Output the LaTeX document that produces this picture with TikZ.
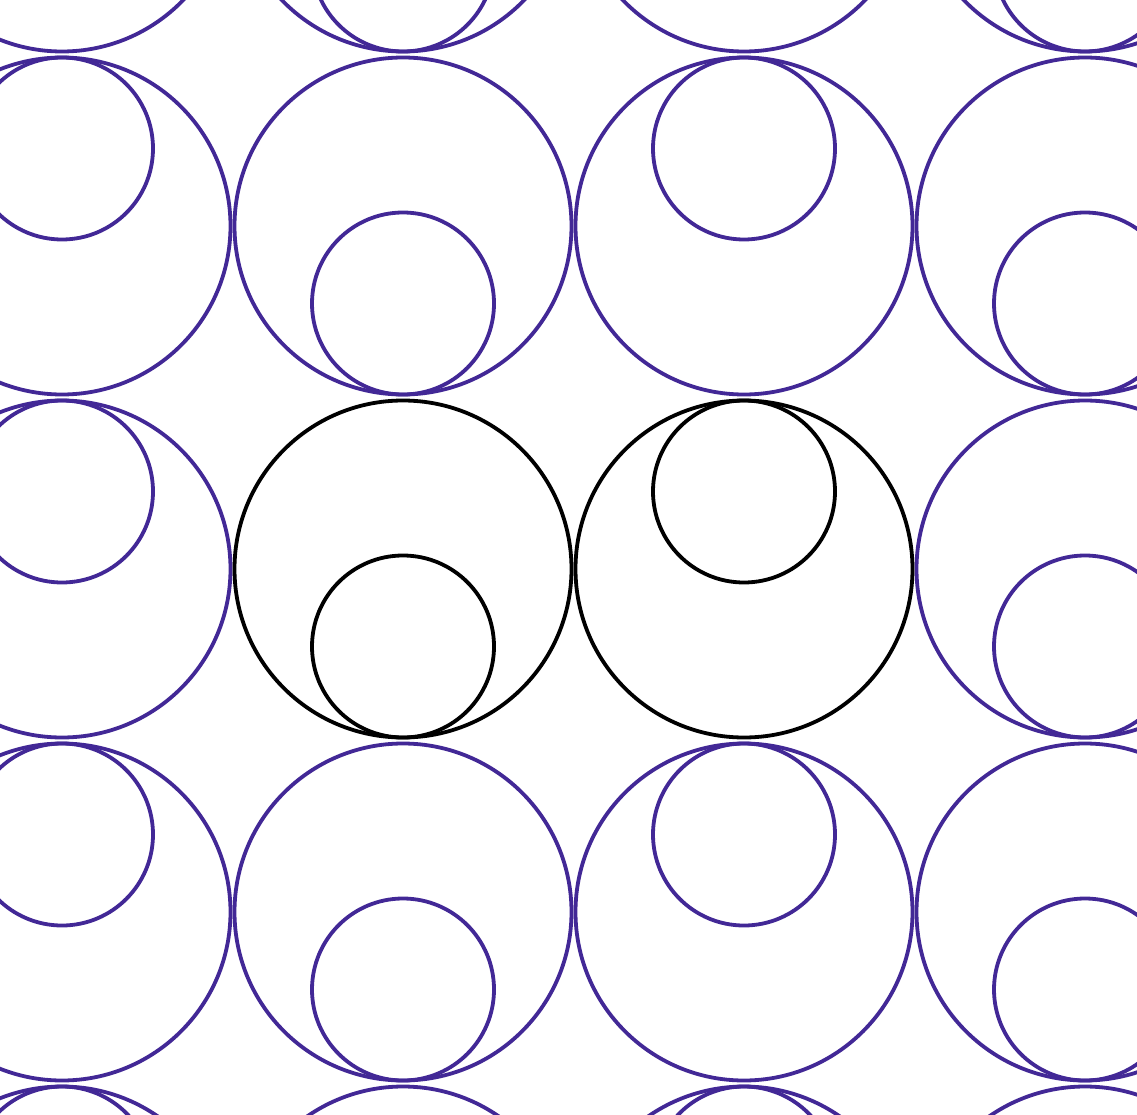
\documentclass[tikz,border=0pt]{standalone}
\definecolor{tilepurple}{RGB}{66,40,150}
\begin{document}
\begin{tikzpicture}[x=1pt,y=-1pt,
  tile/.style={draw=tilepurple,line width=3.8pt},
  hilite/.style={draw=black,line width=3.8pt}]
\useasboundingbox (0,0) rectangle (1137,1115);
\clip (0,0) rectangle (1137,1115);
\def\R{168.5}
\def\r{91}
\def\off{77.5}
% purple tiling
\foreach \row/\y in {0/-117,1/226,2/569,3/912,4/1255}{
  \foreach \col/\x/\s in {0/62/-1,1/403/1,2/744/-1,3/1085/1}{
    \pgfmathtruncatemacro{\isblack}{(\row==2)&&((\col==1)||(\col==2))}
    \ifnum\isblack=0
      \draw[tile] (\x,\y) circle[radius=\R];
      \draw[tile] (\x,\y+\s*\off) circle[radius=\r];
    \fi
  }
}
% black pair
\draw[hilite] (403,569) circle[radius=\R];
\draw[hilite] (403,569+\off) circle[radius=\r];
\draw[hilite] (744,569) circle[radius=\R];
\draw[hilite] (744,569-\off) circle[radius=\r];
\end{tikzpicture}
\end{document}
